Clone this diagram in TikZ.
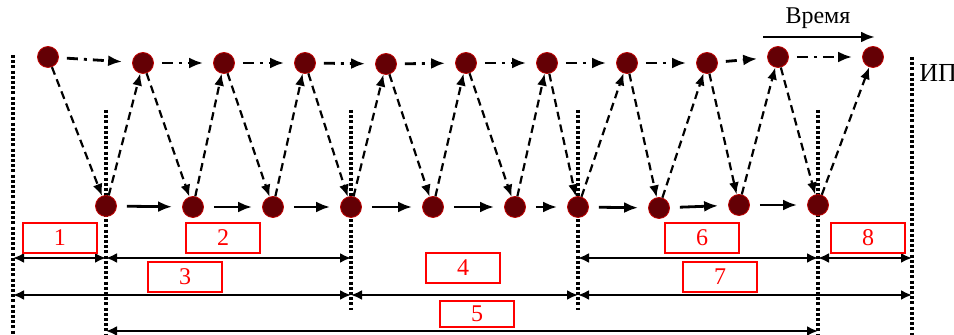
\documentclass[tikz,border=0pt]{standalone}
\usepackage{fontspec}
\setmainfont{Liberation Serif}
\usetikzlibrary{arrows.meta}
\usepackage{xcolor}
\definecolor{dotfill}{RGB}{100,0,5}
\definecolor{boxred}{RGB}{255,0,0}

\begin{document}
\begin{tikzpicture}[x=0.5pt,y=-0.5pt,
    dot/.style={circle, fill=dotfill, draw=red!75!black, line width=0.4pt, minimum size=10.5pt, inner sep=0pt},
    numbox/.style={draw=boxred, line width=1pt, text=boxred, minimum width=37pt, minimum height=15pt, inner sep=0pt, font=\fontsize{12}{12}\selectfont},
    vline/.style={line width=1.7pt, dash pattern=on 1.5pt off 1.1pt},
    zig/.style={line width=1.1pt, dash pattern=on 4pt off 2.5pt, -{Latex[length=6pt,width=5pt]}},
    topline/.style={line width=1.4pt, dash pattern=on 5.5pt off 3pt on 1.5pt off 3pt, -{Latex[length=7pt,width=5.5pt]}, shorten <=4pt, shorten >=5pt},
    botline/.style={line width=1.4pt, -{Latex[length=7pt,width=5.5pt]}, shorten <=5pt, shorten >=5pt},
    dim/.style={line width=1.1pt, {Latex[length=5.5pt,width=5pt]}-{Latex[length=5.5pt,width=5pt]}}]
  \useasboundingbox (0,0) rectangle (954,335);

  % vertical dotted boundaries
  \coordinate (v0) at (13,55);
  \coordinate (v1) at (106,110);
  \coordinate (v2) at (351,110);
  \coordinate (v3) at (578,110);
  \coordinate (v4) at (818,110);
  \coordinate (v5) at (912,57);
  \coordinate (low) at (0,335);
  \coordinate (mid) at (0,310);
  \draw[vline] (v0) -- (v0 |- low);
  \draw[vline] (v1) -- (v1 |- low);
  \draw[vline] (v2) -- (v2 |- mid);
  \draw[vline] (v3) -- (v3 |- mid);
  \draw[vline] (v4) -- (v4 |- low);
  \draw[vline] (v5) -- (v5 |- low);
  \node[anchor=west, font=\fontsize{13}{13}\selectfont, inner sep=0pt] (ip) at (919,73) {ИП};

  % time axis
  \coordinate (tstart) at (763,37);
  \coordinate (tend) at (875,37);
  \draw[line width=1.4pt, -{Latex[length=7pt,width=5.5pt]}] (tstart) -- (tend);
  \node[font=\fontsize{12}{12}\selectfont] (time) at (818,18) {Время};

  % upper row
  \node[dot] (t0) at (48,57) {};
  \node[dot] (t1) at (143,63) {};
  \node[dot] (t2) at (224,63) {};
  \node[dot] (t3) at (305,63) {};
  \node[dot] (t4) at (386,64) {};
  \node[dot] (t5) at (466,63) {};
  \node[dot] (t6) at (547,63) {};
  \node[dot] (t7) at (627,63) {};
  \node[dot] (t8) at (707,63) {};
  \node[dot] (t9) at (778,57) {};
  \node[dot] (t10) at (873,57) {};

  % lower row
  \node[dot] (b1) at (106,206) {};
  \node[dot] (b2) at (193,207) {};
  \node[dot] (b3) at (273,207) {};
  \node[dot] (b4) at (351,207) {};
  \node[dot] (b5) at (433,207) {};
  \node[dot] (b6) at (515,207) {};
  \node[dot] (b7) at (578,207) {};
  \node[dot] (b8) at (659,208) {};
  \node[dot] (b9) at (739,205) {};
  \node[dot] (b10) at (818,205) {};

  \draw[topline] (t0) -- (t1);
  \draw[topline] (t1) -- (t2);
  \draw[topline] (t2) -- (t3);
  \draw[topline] (t3) -- (t4);
  \draw[topline] (t4) -- (t5);
  \draw[topline] (t5) -- (t6);
  \draw[topline] (t6) -- (t7);
  \draw[topline] (t7) -- (t8);
  \draw[topline] (t8) -- (t9);
  \draw[topline] (t9) -- (t10);

  \draw[botline] (b1) -- (b2);
  \draw[botline] (b2) -- (b3);
  \draw[botline] (b3) -- (b4);
  \draw[botline] (b4) -- (b5);
  \draw[botline] (b5) -- (b6);
  \draw[botline] (b6) -- (b7);
  \draw[botline] (b7) -- (b8);
  \draw[botline] (b8) -- (b9);
  \draw[botline] (b9) -- (b10);

  % zig-zag
  \draw[zig] (t0) -- (b1);
  \draw[zig] (b1) -- (t1);
  \draw[zig] (t1) -- (b2);
  \draw[zig] (b2) -- (t2);
  \draw[zig] (t2) -- (b3);
  \draw[zig] (b3) -- (t3);
  \draw[zig] (t3) -- (b4);
  \draw[zig] (b4) -- (t4);
  \draw[zig] (t4) -- (b5);
  \draw[zig] (b5) -- (t5);
  \draw[zig] (t5) -- (b6);
  \draw[zig] (b6) -- (t6);
  \draw[zig] (t6) -- (b7);
  \draw[zig] (b7) -- (t7);
  \draw[zig] (t7) -- (b8);
  \draw[zig] (b8) -- (t8);
  \draw[zig] (t8) -- (b9);
  \draw[zig] (b9) -- (t9);
  \draw[zig] (t9) -- (b10);
  \draw[zig] (b10) -- (t10);

  % intervals
  \coordinate (r1) at (0,258);
  \coordinate (r2) at (0,295);
  \coordinate (r3) at (0,331);
  \draw[dim] (v0 |- r1) -- (v1 |- r1);
  \draw[dim] (v1 |- r1) -- (v2 |- r1);
  \draw[dim] (v3 |- r1) -- (v4 |- r1);
  \draw[dim] (v4 |- r1) -- (v5 |- r1);
  \draw[dim] (v0 |- r2) -- (v2 |- r2);
  \draw[dim] (v2 |- r2) -- (v3 |- r2);
  \draw[dim] (v3 |- r2) -- (v5 |- r2);
  \draw[dim] (v1 |- r3) -- (v4 |- r3);

  \node[numbox] (n1) at (60,238) {1};
  \node[numbox] (n2) at (223,238) {2};
  \node[numbox] (n3) at (185,277) {3};
  \node[numbox] (n4) at (463,268) {4};
  \node[numbox, minimum height=13pt] (n5) at (477,314) {5};
  \node[numbox] (n6) at (702,238) {6};
  \node[numbox] (n7) at (720,277) {7};
  \node[numbox] (n8) at (868,238) {8};
\end{tikzpicture}
\end{document}
